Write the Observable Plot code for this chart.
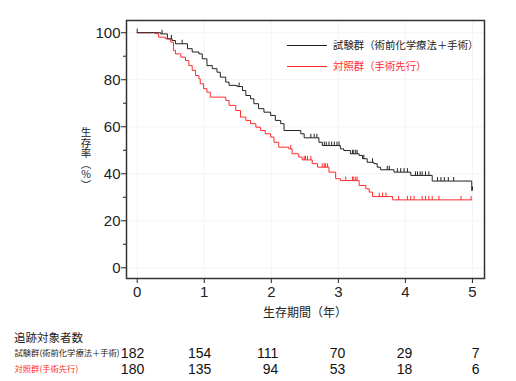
<!DOCTYPE html>
<html><head><meta charset="utf-8">
<script src="https://cdn.jsdelivr.net/npm/d3@7"></script>
<script src="https://cdn.jsdelivr.net/npm/@observablehq/plot@0.6"></script>
<style>
body{margin:0;background:#fff;font-family:"Liberation Sans","Noto Sans CJK JP",sans-serif;color:#222;}
#wrap{position:relative;width:516px;height:381px;overflow:hidden;}
.abs{position:absolute;white-space:nowrap;}
#ylab{left:80px;top:127px;font-size:10.5px;writing-mode:vertical-rl;text-orientation:upright;font-family:"Noto Sans CJK JP",sans-serif;line-height:1;}
#xlab{left:205px;width:200px;text-align:center;top:303px;font-size:12px;font-family:"Noto Sans CJK JP",sans-serif;}
.leg{font-size:10.4px;font-family:"Noto Sans CJK JP",sans-serif;line-height:1;}
.legline{position:absolute;width:40px;height:0;border-top:1px solid;}
#ttl{left:14px;top:332px;font-size:11.5px;font-family:"Noto Sans CJK JP",sans-serif;line-height:1;}
</style></head><body><div id="wrap"></div>
<script>
// groups
const groupNames = ["試験群（術前化学療法＋手術）", "対照群（手術先行）"];
const rowNames = ["試験群(術前化学療法＋手術)", "対照群(手術先行)"];
const groupColors = ["#222222", "#ff2b2b"];
const yLabel = "生存率（%）";
const xLabel = "生存期間（年）";
const tableTitle = "追跡対象者数";

// Kaplan–Meier steps (years, survival %)
const trialTimes = [0, 0.35, 0.45, 0.52, 0.57, 0.75, 0.82, 0.92, 0.97, 1.04, 1.12, 1.19, 1.24, 1.32, 1.37, 1.49, 1.57, 1.62, 1.69, 1.74, 1.81, 1.89, 1.99, 2.06, 2.14, 2.19, 2.44, 2.49, 2.71, 2.76, 3.03, 3.08, 3.18, 3.31, 3.36, 3.43, 3.53, 3.58, 3.63, 3.83, 4.08, 4.40, 4.99];
const trialSurv = [100, 99.5, 97.4, 96.7, 95.3, 93.2, 91.8, 91.0, 88.9, 86.0, 84.7, 83.2, 81.1, 79.0, 77.6, 77.1, 75.4, 73.3, 71.9, 69.8, 67.7, 66.2, 64.8, 62.7, 61.3, 58.4, 57.0, 55.3, 53.4, 52.0, 50.6, 49.9, 48.5, 47.8, 46.4, 44.9, 44.3, 42.8, 41.7, 40.7, 39.3, 36.9, 32.9];
const controlTimes = [0, 0.27, 0.32, 0.42, 0.50, 0.54, 0.57, 0.65, 0.72, 0.77, 0.82, 0.87, 0.92, 0.94, 0.99, 1.04, 1.09, 1.32, 1.37, 1.47, 1.54, 1.62, 1.69, 1.77, 1.84, 1.91, 1.99, 2.04, 2.11, 2.26, 2.31, 2.41, 2.46, 2.61, 2.69, 2.86, 2.96, 3.03, 3.31, 3.41, 3.46, 3.51, 3.81, 4.99];
const controlSurv = [100, 99.6, 98.1, 97.4, 96.0, 92.5, 91.0, 89.6, 88.2, 86.0, 84.0, 81.8, 80.4, 78.3, 76.2, 74.7, 72.6, 71.2, 69.1, 66.9, 64.1, 62.7, 61.3, 59.8, 58.4, 57.0, 55.6, 53.4, 51.3, 50.6, 48.5, 47.1, 45.9, 44.3, 42.8, 40.7, 37.9, 37.1, 35.0, 33.6, 32.2, 30.3, 28.9, 28.9];

// censoring times (years)
const trialCensor = [0, 0.37, 0.51, 0.67, 1.52, 2.59, 2.64, 2.68, 2.79, 2.82, 2.86, 2.90, 2.94, 2.98, 3.01, 3.21, 3.23, 3.26, 3.28, 3.38, 3.51, 3.73, 3.76, 3.88, 3.93, 3.98, 4.03, 4.15, 4.18, 4.22, 4.25, 4.30, 4.35, 4.48, 4.53, 4.58, 4.64, 4.72, 5.0];
const controlCensor = [2.29, 2.49, 2.51, 2.54, 2.59, 2.76, 2.79, 2.81, 2.84, 3.11, 3.21, 3.23, 3.26, 3.28, 3.61, 3.66, 3.71, 3.90, 4.03, 4.08, 4.13, 4.25, 4.30, 4.35, 4.40, 4.50, 4.83, 4.98];

// number at risk
const riskTimes = [0, 1, 2, 3, 4, 5];
const trialRisk = [182, 154, 111, 70, 29, 7];
const controlRisk = [180, 135, 94, 53, 18, 6];

// ticks
const xTicks = [0, 1, 2, 3, 4, 5];
const yTicks = [0, 20, 40, 60, 80, 100];
const yMinor = [10, 30, 50, 70, 90];

const FONT = '"Liberation Sans","Noto Sans CJK JP",sans-serif';
const xDomain = [-0.16, 5.18];

const curve = (times, surv) => times.map((t, i) => ({time: t, surv: surv[i]}));
const stepAt = (times, surv, t) => { let v = surv[0]; for (let i = 0; i < times.length; i++) if (times[i] <= t) v = surv[i]; return v; };
const censors = (cs, times, surv) => cs.map(t => ({time: t, surv: stepAt(times, surv, t)}));
const censorSymbol = {draw(ctx, size) { const r = Math.sqrt(size / Math.PI); ctx.moveTo(0, 0); ctx.lineTo(0, -r); }};

const main = Plot.plot({
  width: 516, height: 300,
  marginTop: 20, marginRight: 32, marginBottom: 22, marginLeft: 126,
  style: {fontFamily: FONT, background: "transparent", color: "#222"},
  x: {domain: xDomain},
  y: {domain: [-4.55, 105.2]},
  marks: [
    Plot.gridX(xTicks, {stroke: "#f4f4f4", strokeOpacity: 1}),
    Plot.gridY(yTicks, {stroke: "#f4f4f4", strokeOpacity: 1}),
    Plot.line(curve(controlTimes, controlSurv), {x: "time", y: "surv", curve: "step-after", stroke: groupColors[1], strokeWidth: 1}),
    Plot.line(curve(trialTimes, trialSurv), {x: "time", y: "surv", curve: "step-after", stroke: groupColors[0], strokeWidth: 1}),
    Plot.dot(censors(controlCensor, controlTimes, controlSurv), {x: "time", y: "surv", r: 4, symbol: censorSymbol, stroke: groupColors[1], strokeWidth: 1}),
    Plot.dot(censors(trialCensor, trialTimes, trialSurv), {x: "time", y: "surv", r: 4, symbol: censorSymbol, stroke: groupColors[0], strokeWidth: 1}),
    Plot.axisY(yTicks, {tickSize: 5, tickPadding: 1, fontSize: 15, label: null, stroke: "#222", fill: "#222"}),
    Plot.axisY(yMinor, {tickSize: 3, tickFormat: () => "", label: null, stroke: "#222"}),
    Plot.axisX(xTicks, {tickSize: 5, tickPadding: 3, fontSize: 15, label: null, stroke: "#222", fill: "#222"}),
    Plot.frame({stroke: "#333", strokeWidth: 1.5})
  ]
});

const riskRows = [];
riskTimes.forEach((t, i) => {
  riskRows.push({time: t, group: "trial", n: trialRisk[i]});
  riskRows.push({time: t, group: "control", n: controlRisk[i]});
});
const rowLabels = [{group: "trial", label: rowNames[0]}, {group: "control", label: rowNames[1]}];

const table = Plot.plot({
  width: 516, height: 36,
  marginTop: 2, marginRight: 32, marginBottom: 2, marginLeft: 126,
  style: {fontFamily: FONT, background: "transparent"},
  x: {domain: xDomain, axis: null},
  y: {domain: ["trial", "control"], axis: null},
  marks: [
    Plot.text(riskRows, {x: "time", y: "group", text: "n", textAnchor: "end", dx: 7, fontSize: 14, fill: "#111"}),
    Plot.text(rowLabels.slice(0, 1), {y: "group", text: "label", frameAnchor: "left", textAnchor: "start", dx: -112, fontSize: 8.3, fill: groupColors[0], fontFamily: '"Noto Sans CJK JP",sans-serif'}),
    Plot.text(rowLabels.slice(1), {y: "group", text: "label", frameAnchor: "left", textAnchor: "start", dx: -112, fontSize: 8.3, fill: groupColors[1], fontFamily: '"Noto Sans CJK JP",sans-serif'})
  ]
});

const wrap = document.getElementById("wrap");
main.style.position = "absolute"; main.style.left = "0px"; main.style.top = "0px";
table.style.position = "absolute"; table.style.left = "0px"; table.style.top = "343px";
wrap.appendChild(main);
wrap.appendChild(table);

function addDiv(id, cls, text, css) {
  const d = document.createElement("div");
  if (id) d.id = id;
  d.className = cls;
  d.textContent = text;
  if (css) Object.assign(d.style, css);
  wrap.appendChild(d);
  return d;
}
addDiv("ylab", "abs", yLabel);
addDiv("xlab", "abs", xLabel);
addDiv("ttl", "abs", tableTitle);
// legend
groupNames.forEach((name, i) => {
  const top = [45, 66][i];
  const ln = document.createElement("div");
  ln.className = "legline";
  Object.assign(ln.style, {left: "287px", top: top + "px", borderTopColor: groupColors[i]});
  wrap.appendChild(ln);
  addDiv(null, "abs leg", name, {left: "333px", top: (top - 5) + "px", color: groupColors[i]});
});
</script>
</body></html>
